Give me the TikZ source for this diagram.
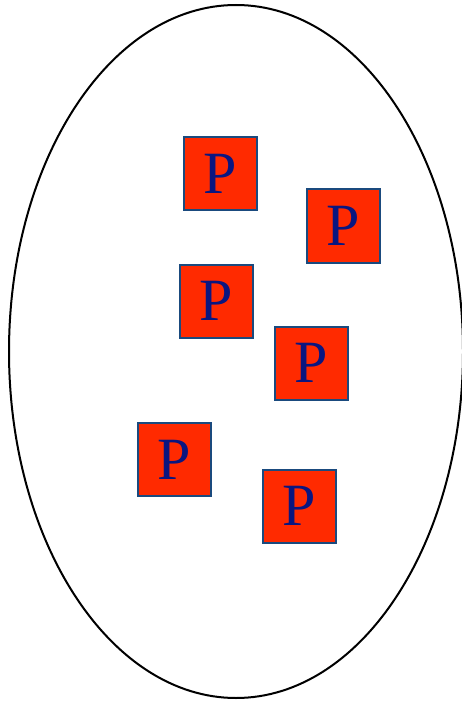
\documentclass[tikz,border=0pt]{standalone}
\usepackage{fontspec}
\setmainfont{Liberation Serif}
\usetikzlibrary{shapes.geometric}
\definecolor{pfill}{HTML}{FF2A00}
\definecolor{pedge}{HTML}{1A4A7E}
\definecolor{ptext}{HTML}{0A1680}
\begin{document}
\begin{tikzpicture}[x=1pt,y=-1pt,
  pbox/.style={draw=pedge, line width=2pt, fill=pfill, minimum size=73pt,
    inner sep=0pt, text=ptext, font=\fontsize{60}{60}\selectfont}]
  \useasboundingbox (0,0) rectangle (462,703);
  % enclosing oval
  \node (oval) [ellipse, draw=black, line width=2pt, minimum width=454pt,
    minimum height=693pt, inner sep=0pt] at (236,351.5) {};
  % the six P blocks
  \node (p1) [pbox] at (220,173.5) {P};
  \node (p2) [pbox] at (343.5,226) {P};
  \node (p3) [pbox] at (216,301) {P};
  \node (p4) [pbox] at (311,363) {P};
  \node (p5) [pbox] at (174.5,459.5) {P};
  \node (p6) [pbox] at (299,506) {P};
\end{tikzpicture}
\end{document}
